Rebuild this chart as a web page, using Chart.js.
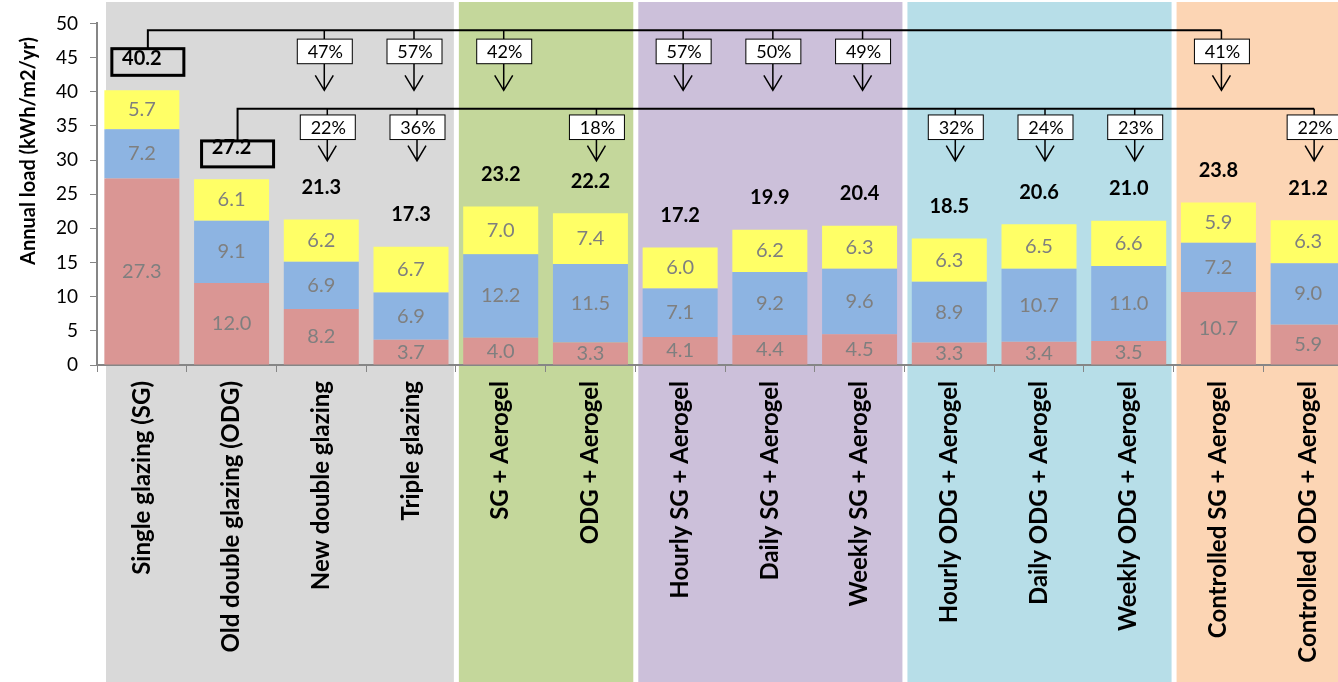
<!DOCTYPE html>
<html>
<head>
<meta charset="utf-8">
<script src="https://cdn.jsdelivr.net/npm/chart.js@4"></script>
<style>
  body { margin: 0; background: #fff; overflow: hidden; }
  #wrap { width: 1338px; height: 682px; overflow: hidden; }
</style>
</head>
<body>
<div id="wrap"><canvas id="chart" width="1364" height="682"></canvas></div>
<script>
const categories = [
  "Single glazing (SG)", "Old double glazing (ODG)", "New double glazing", "Triple glazing",
  "SG + Aerogel", "ODG + Aerogel",
  "Hourly SG + Aerogel", "Daily SG + Aerogel", "Weekly SG + Aerogel",
  "Hourly ODG + Aerogel", "Daily ODG + Aerogel", "Weekly ODG + Aerogel",
  "Controlled SG + Aerogel", "Controlled ODG + Aerogel"
];
const bottomLoad = [27.3, 12.0, 8.2, 3.7, 4.0, 3.3, 4.1, 4.4, 4.5, 3.3, 3.4, 3.5, 10.7, 5.9];
const middleLoad = [7.2, 9.1, 6.9, 6.9, 12.2, 11.5, 7.1, 9.2, 9.6, 8.9, 10.7, 11.0, 7.2, 9.0];
const topLoad = [5.7, 6.1, 6.2, 6.7, 7.0, 7.4, 6.0, 6.2, 6.3, 6.3, 6.5, 6.6, 5.9, 6.3];
const totals = [40.2, 27.2, 21.3, 17.3, 23.2, 22.2, 17.2, 19.9, 20.4, 18.5, 20.6, 21.0, 23.8, 21.2];

// savings (%) against single glazing and against old double glazing
const savingsVsSG = [null, null, 47, 57, 42, null, 57, 50, 49, null, null, null, 41, null];
const savingsVsODG = [null, null, 22, 36, null, 18, null, null, null, 32, 24, 23, null, 22];

// last category index of each shaded group
const groupEnds = [3, 5, 8, 11, 13];
const bandColors = ["#d9d9d9", "#c4d79b", "#ccc0da", "#b7dee8", "#fcd5b4"];

const FONT = "Lato, 'Open Sans', sans-serif";

function drawBracket(ctx, chart, baseIdx, pcts, lv, dx) {
  const x = chart.scales.x, y = chart.scales.y;
  const py = v => y.getPixelForValue(v);
  const lineY = py(lv.line);
  const startX = x.getPixelForValue(baseIdx) + 6;
  let endX = startX;
  pcts.forEach((p, i) => { if (p !== null) endX = x.getPixelForValue(i) + dx; });

  ctx.strokeStyle = "#000";
  ctx.lineWidth = 2;
  ctx.beginPath();
  ctx.moveTo(startX, py(lv.baseTop));
  ctx.lineTo(startX, lineY);
  ctx.lineTo(endX, lineY);
  ctx.stroke();

  // box around the base total
  ctx.lineWidth = 3;
  ctx.strokeRect(startX - 36, py(lv.baseTop), 72, py(lv.baseBot) - py(lv.baseTop));

  pcts.forEach((p, i) => {
    if (p === null) return;
    const cx = x.getPixelForValue(i) + dx;
    const bt = py(lv.boxTop), bb = py(lv.boxBot), tip = py(lv.tip);
    ctx.lineWidth = 1.5;
    ctx.beginPath();
    ctx.moveTo(cx, lineY); ctx.lineTo(cx, bt);
    ctx.moveTo(cx, bb); ctx.lineTo(cx, tip);
    ctx.moveTo(cx - 9, tip - 15); ctx.lineTo(cx, tip); ctx.lineTo(cx + 9, tip - 15);
    ctx.stroke();
    ctx.fillStyle = "#fff";
    ctx.fillRect(cx - 27, bt, 55, bb - bt);
    ctx.lineWidth = 1;
    ctx.strokeRect(cx - 27, bt, 55, bb - bt);
    ctx.fillStyle = "#000";
    ctx.font = "18px " + FONT;
    ctx.textAlign = "center";
    ctx.textBaseline = "middle";
    ctx.fillText(p + "%", cx + 1, (bt + bb) / 2 + 1);
  });
}

const overlay = {
  id: "overlay",
  beforeDraw(chart) {
    const { ctx } = chart;
    const x = chart.scales.x;
    const half = (x.getPixelForValue(1) - x.getPixelForValue(0)) / 2;
    ctx.save();
    let start = 0;
    groupEnds.forEach((end, g) => {
      const left = x.getPixelForValue(start) - half + (g === 0 ? 9 : 3);
      const right = x.getPixelForValue(end) + half - 2;
      ctx.fillStyle = bandColors[g];
      ctx.fillRect(left, 2, right - left, chart.height - 2);
      start = end + 1;
    });
    ctx.restore();
  },
  afterDatasetsDraw(chart) {
    const { ctx } = chart;
    ctx.save();
    ctx.textAlign = "center";
    ctx.textBaseline = "middle";
    ctx.font = "20px " + FONT;
    ctx.fillStyle = "#7f7f7f";
    chart.data.datasets.forEach((ds, i) => {
      chart.getDatasetMeta(i).data.forEach((bar, j) => {
        ctx.fillText(ds.data[j].toFixed(1), bar.x, (bar.y + bar.base) / 2);
      });
    });
    ctx.font = "bold 20px " + FONT;
    ctx.fillStyle = "#000";
    chart.getDatasetMeta(2).data.forEach((bar, j) => {
      ctx.fillText(totals[j].toFixed(1), bar.x, bar.y - 32);
    });
    ctx.restore();
  },
  afterDraw(chart) {
    const { ctx } = chart;
    ctx.save();
    drawBracket(ctx, chart, 0, savingsVsSG,
      { line: 49.0, boxTop: 47.7, boxBot: 44.1, tip: 40.2, baseTop: 46.3, baseBot: 42.4 }, 3);
    drawBracket(ctx, chart, 1, savingsVsODG,
      { line: 37.5, boxTop: 36.6, boxBot: 33.0, tip: 29.9, baseTop: 32.8, baseBot: 29.0 }, 6);
    // y axis title
    ctx.translate(29, 151);
    ctx.rotate(-Math.PI / 2);
    ctx.font = "bold 20px " + FONT;
    ctx.fillStyle = "#000";
    ctx.textAlign = "center";
    ctx.textBaseline = "middle";
    ctx.fillText("Annual load (kWh/m2/yr)", 0, 0);
    ctx.restore();
  }
};

new Chart(document.getElementById("chart"), {
  type: "bar",
  data: {
    labels: categories,
    datasets: [
      { label: "bottom", data: bottomLoad, backgroundColor: "#da9694" },
      { label: "middle", data: middleLoad, backgroundColor: "#8db4e2" },
      { label: "top", data: topLoad, backgroundColor: "#ffff66" }
    ]
  },
  options: {
    responsive: false,
    animation: false,
    categoryPercentage: 0.836,
    barPercentage: 1,
    layout: { padding: { top: 17, right: 11, left: 0, bottom: 0 } },
    plugins: { legend: { display: false }, tooltip: { enabled: false } },
    scales: {
      x: {
        stacked: true,
        grid: { drawOnChartArea: false, tickLength: 7, color: "#868686", offset: true },
        border: { color: "#868686", width: 2 },
        ticks: {
          maxRotation: 90, minRotation: 90, autoSkip: false, padding: 9,
          color: "#000", font: { family: FONT, size: 24, weight: "bold" }
        },
        afterFit(s) { s.height = 317; }
      },
      y: {
        stacked: true,
        min: 0,
        max: 50,
        grid: { drawOnChartArea: false, tickLength: 7, color: "#868686" },
        border: { color: "#868686", width: 2 },
        ticks: { stepSize: 5, padding: 12, color: "#000", font: { family: FONT, size: 19 } },
        afterFit(s) { s.width = 97; }
      }
    }
  },
  plugins: [overlay]
});
</script>
</body>
</html>
